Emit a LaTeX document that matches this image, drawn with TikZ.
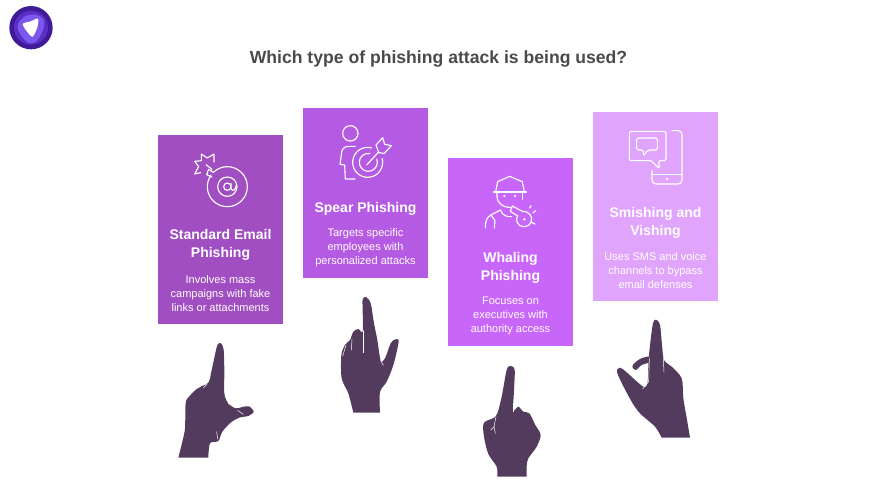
\documentclass[tikz,border=0pt]{standalone}
\usepackage{fontspec}
\setmainfont{Liberation Sans}
\definecolor{cardA}{HTML}{A04EC1}
\definecolor{cardB}{HTML}{B55AE3}
\definecolor{cardC}{HTML}{C966FA}
\definecolor{cardD}{HTML}{E0A4FC}
\definecolor{handc}{HTML}{523B5C}
\definecolor{titlec}{HTML}{4A4A4A}
\definecolor{logoA}{HTML}{3F1A99}
\definecolor{logoB}{HTML}{5B2FC4}
\definecolor{logoC}{HTML}{7B58EE}
\tikzset{
 card/.style={anchor=north west,inner sep=0pt,outer sep=0pt,minimum width=125pt},
 cardtitle/.style={text=white,font=\bfseries\fontsize{14}{18}\selectfont,align=center,inner sep=0pt},
 carddesc/.style={text=white,font=\fontsize{11}{13.9}\selectfont,align=center,inner sep=0pt},
 handshape/.style={fill=handc,draw=none},
 zoomed/.style={shift={#1},scale=1/3},
 icon/.style={draw=white,line width=1.15pt,line cap=round,line join=round,fill=none},
 crease/.style={draw=white,line width=0.5pt,line cap=round}
}
\begin{document}
\begin{tikzpicture}[x=1pt,y=-1pt]
\useasboundingbox (0,0) rectangle (876,493);
% logo
\begin{scope}[zoomed={(0,0)}]
\fill[logoA] (93,83) circle (65);
\fill[logoB] (93,83) circle (51);
\fill[logoC] plot[smooth cycle,tension=0.7] coordinates {(54,72) (90,44) (130,58) (124,102) (96,130) (66,110)};
\fill[white] plot[smooth cycle,tension=0.45] coordinates {(68,72) (92,64) (114,56) (112,82) (98,110) (82,96)};
\end{scope}
\node[text=titlec,font=\bfseries\fontsize{17.6}{22}\selectfont,inner sep=0pt] (title) at (438.5,58.5) {Which type of phishing attack is being used?};
% cards
\node[card,fill=cardA,minimum height=189pt] (c1) at (158,135) {};
\node[card,fill=cardB,minimum height=170pt] (c2) at (303,108) {};
\node[card,fill=cardC,minimum height=188pt] (c3) at (448,158) {};
\node[card,fill=cardD,minimum height=189pt] (c4) at (593,112) {};
% text
\node[cardtitle] (t1) at (220.5,244.5) {Standard Email\\Phishing};
\node[carddesc] (d1) at (220.5,293.5) {Involves mass\\campaigns with fake\\links or attachments};
\node[cardtitle] (t2) at (365.5,208.5) {Spear Phishing};
\node[carddesc] (d2) at (365.5,248) {Targets specific\\employees with\\personalized attacks};
\node[cardtitle] (t3) at (510.5,267.5) {Whaling\\Phishing};
\node[carddesc] (d3) at (510.5,316) {Focuses on\\executives with\\authority access};
\node[cardtitle] (t4) at (655.5,222.5) {Smishing and\\Vishing};
\node[carddesc] (d4) at (655.5,270.5) {Uses SMS and voice\\channels to bypass\\email defenses};
% icon 1: bomb
\begin{scope}[zoomed={(150,130)}]
\draw[icon] (232,170) ++(-135:60) arc (-135:215:60);
\draw[icon] (232,170) circle (29);
\draw[icon] (232,170) circle (11);
\draw[icon] (243,160) -- (243,176) .. controls (246,186) and (258,180) .. (258,168);
\draw[icon] (190,127) -- (176,118) -- (170,134) -- (186,141);
\draw[icon] (168,104) -- (186,118);
\draw[icon] (152,128) -- (134,132) -- (146,110) -- (134,94) -- (154,92) -- (154,72) -- (172,84) -- (192,72) -- (192,96);
\end{scope}
% icon 2: person + target
\begin{scope}[zoomed={(300,105)}]
\draw[icon] (151,85) circle (23);
\draw[icon] (166,124) -- (146,124) .. controls (130,124) and (124,135) .. (124,150) -- (120,178) -- (134,180) -- (136,222) -- (165,222);
\draw[icon] (203,172) ++(-15:45) arc (-15:285:45);
\draw[icon] (205,172) ++(-20:27) arc (-20:280:27);
\draw[icon] (200,180) -- (235,142);
\draw[icon] (228,120) -- (248,98) -- (254,118) -- (274,122) -- (252,146) -- (236,142) -- cycle;
\end{scope}
% icon 3: man + whistle
\begin{scope}[zoomed={(445,160)}]
\draw[icon] (152,96) -- (158,65) -- (194,49) -- (232,65) -- (238,96);
\draw[icon] (146,96) -- (244,96);
\draw[icon] (156,98) -- (156,110) .. controls (158,132) and (176,142) .. (192,142) -- (196,142);
\draw[icon] (232,98) -- (232,118);
\fill[white] (178,108) circle (4);
\fill[white] (210,108) circle (4);
\draw[icon] (166,150) -- (138,165) .. controls (124,172) and (121,185) .. (121,204);
\draw[icon] (148,204) -- (150,182) -- (138,165);
\draw[icon] (166,150) .. controls (172,165) and (185,172) .. (200,170);
\draw[icon] (202,138) -- (232,154) .. controls (250,152) and (266,170) .. (258,186) .. controls (250,206) and (222,204) .. (216,186) .. controls (214,178) and (214,172) .. (218,168) -- (196,154) -- cycle;
\fill[white] (238,178) circle (4);
\draw[icon] (258,186) -- (270,192);
\draw[icon] (254,144) -- (258,137);
\draw[icon] (264,158) -- (272,152);
\end{scope}
% icon 4: chat + phone
\begin{scope}[zoomed={(590,110)}]
\draw[icon,rounded corners=1.5pt] (118,64) -- (228,64) -- (228,152) -- (206,152) -- (208,176) -- (184,152) -- (118,152) -- cycle;
\draw[icon,rounded corners=1.5pt] (140,84) -- (202,84) -- (202,120) -- (174,120) -- (160,138) -- (160,120) -- (140,120) -- cycle;
\draw[icon] (246,62) -- (264,62) .. controls (272,62) and (276,68) .. (276,74) -- (276,210) .. controls (276,218) and (270,222) .. (264,222) -- (198,222) .. controls (190,222) and (186,216) .. (186,208) -- (186,182);
\draw[icon] (186,194) -- (276,194);
\fill[white] (231,207) circle (4);
\end{scope}
% hand 1
\begin{scope}[zoomed={(165,335)}]
\fill[handshape] plot[smooth,tension=0.5] coordinates {(40,368) (52,320) (60,280) (62,205) (72,185) (100,158) (130,143) (140,105) (152,50) (158,28) (168,25) (176,45) (178,110) (178,175) (190,205) (212,220) (232,216) (252,214) (266,230) (250,243) (225,247) (198,262) (172,290) (160,318) (135,325) (130,368)} -- cycle;
\draw[crease] (180,182) -- (192,208);
\draw[crease] (218,226) -- (235,238);
\draw[crease] (155,290) -- (158,312);
\draw[crease] (98,160) -- (108,153);
\draw[crease] (116,158) -- (126,148);
\end{scope}
% hand 2
\begin{scope}[zoomed={(330,290)}]
\fill[handshape] plot[smooth,tension=0.5] coordinates {(70,368) (55,310) (35,265) (34,195) (45,165) (60,150) (70,125) (85,117) (98,125) (98,60) (98,28) (108,21) (122,40) (132,100) (142,150) (152,212) (165,205) (182,160) (196,148) (206,155) (190,225) (170,275) (150,306) (150,368)} -- cycle;
\draw[crease] (100,122) -- (100,188);
\draw[crease] (66,148) -- (64,180);
\draw[crease] (48,166) -- (38,198);
\draw[crease] (152,212) -- (160,226);
\end{scope}
% hand 3
\begin{scope}[zoomed={(470,360)}]
\fill[handshape] plot[smooth,tension=0.5] coordinates {(82,350) (80,320) (55,282) (42,230) (42,188) (78,168) (95,110) (110,30) (122,18) (134,30) (132,90) (130,150) (145,140) (160,155) (178,160) (196,195) (212,225) (200,260) (175,295) (170,318) (170,350)} -- cycle;
\draw[crease] (78,170) -- (72,200) -- (62,210);
\draw[crease] (72,200) -- (76,220);
\draw[crease] (130,130) -- (130,155);
\end{scope}
% hand 4
\begin{scope}[zoomed={(610,315)}]
\fill[handshape] plot[smooth,tension=0.5] coordinates {(155,368) (135,335) (90,295) (62,255) (22,175) (30,158) (50,172) (100,215) (113,200) (116,130) (128,30) (138,14) (150,30) (156,90) (162,135) (185,155) (215,190) (220,250) (232,320) (240,368)} -- cycle;
\fill[handshape] plot[smooth cycle,tension=0.5] coordinates {(116,125) (90,132) (70,148) (68,158) (78,165) (95,150) (116,142)};
\draw[crease] (160,130) -- (162,172);
\draw[crease] (118,130) -- (116,200) -- (98,222);
\end{scope}
\end{tikzpicture}
\end{document}
